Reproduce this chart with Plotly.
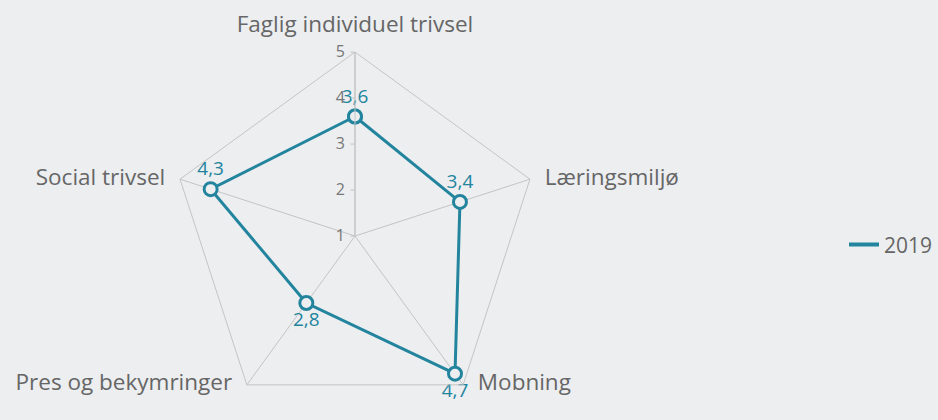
import plotly.graph_objects as go

categories = ["Faglig individuel trivsel", "Læringsmiljø", "Mobning", "Pres og bekymringer", "Social trivsel"]
values_2019 = [3.6, 3.4, 4.7, 2.8, 4.3]
series_name = "2019"
radial_ticks = [1, 2, 3, 4, 5]
axis_max = 5

teal = "#23849e"
bg = "#eceef0"
grid = "#c4c4c4"
txt = "#666666"

labels = [f"{v:.1f}".replace(".", ",") for v in values_2019]
text_pos = ["top center", "top center", "bottom center", "bottom center", "top center"]
cat_pos = ["top center", "middle right", "middle right", "middle left", "middle left"]

fig = go.Figure()
# category labels placed at the outer edge via the polar scale
fig.add_trace(go.Scatterpolar(
    r=[axis_max] * len(categories),
    theta=categories,
    mode="markers+text",
    text=categories,
    textposition=cat_pos,
    textfont=dict(color=txt, size=22.5, family="Open Sans"),
    marker=dict(size=22, opacity=0),
    showlegend=False, hoverinfo="skip", cliponaxis=False,
))
fig.add_trace(go.Scatterpolar(
    r=values_2019 + values_2019[:1],
    theta=categories + categories[:1],
    mode="lines+markers+text",
    text=labels + [""],
    textposition=text_pos + ["top center"],
    textfont=dict(color=teal, size=19, family="Open Sans"),
    line=dict(color=teal, width=3),
    marker=dict(symbol="circle", size=13, color=bg, line=dict(color=teal, width=3)),
    showlegend=False,
    cliponaxis=False,
))
fig.add_trace(go.Scatterpolar(
    r=[None], theta=[categories[0]], mode="lines", name=series_name,
    line=dict(color=teal, width=4),
))

fig.update_layout(
    width=938, height=420,
    paper_bgcolor=bg, plot_bgcolor=bg,
    margin=dict(l=0, r=0, t=0, b=0),
    font=dict(family="Open Sans", color=txt, size=20),
    polar=dict(
        bgcolor=bg,
        domain=dict(x=[0.1823, 0.5746], y=[0.0, 0.876]),
        gridshape="linear",
        radialaxis=dict(
            range=[1, axis_max], tickvals=radial_ticks, angle=90, tickangle=90,
            showgrid=False, showline=True, linecolor=grid, linewidth=1,
            ticks="outside", ticklen=4, tickcolor=grid,
            tickfont=dict(size=16, color="#777777"),
            side="counterclockwise",
        ),
        angularaxis=dict(
            direction="clockwise", rotation=90,
            showgrid=True, gridcolor=grid, gridwidth=1,
            showline=True, linecolor=grid, linewidth=1,
            ticks="", showticklabels=False,
        ),
    ),
    legend=dict(x=0.9, y=0.417, yanchor="middle", xanchor="left",
                bgcolor="rgba(0,0,0,0)", font=dict(size=21, color=txt)),
)

fig.write_html("out.html", config={"displayModeBar": False},
               post_script="document.body.style.margin='0';document.body.style.background='%s';" % bg)
